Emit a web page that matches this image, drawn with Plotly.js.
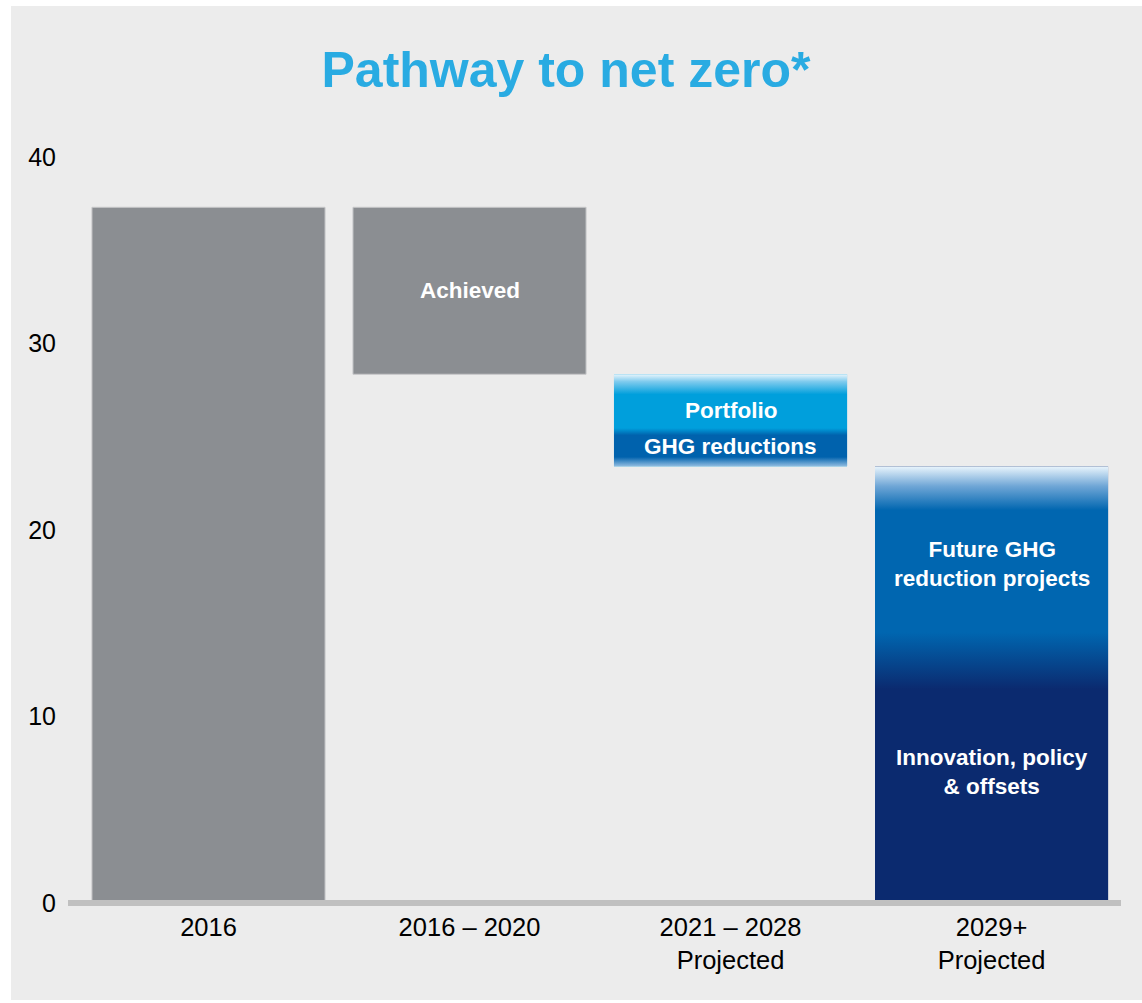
<!DOCTYPE html>
<html>
<head>
<meta charset="utf-8">
<script src="https://cdn.plot.ly/plotly-3.0.1.min.js"></script>
<style>
  html, body { margin: 0; padding: 0; background: #ffffff; }
  #chart { position: absolute; left: 11px; top: 6px; width: 1131px; height: 994px; }
</style>
</head>
<body>
<div id="chart"></div>
<script>
// ---- data ----
const categories = ["2016", "2016 – 2020", "2021 – 2028<br>Projected", "2029+<br>Projected"];
const barBases   = [0, 28.35, 23.42, 0];
const barTops    = [37.3, 37.3, 28.35, 23.4];
const yTickVals  = [0, 10, 20, 30, 40];
const yTickText  = ["0", "10", "20", "30", "40"];
const labelTexts = ["Achieved", "Portfolio", "GHG reductions", "Future GHG<br>reduction projects", "Innovation, policy<br>& offsets"];
const labelBar   = [1, 2, 2, 3, 3];
const labelY     = [32.82, 26.43, 24.5, 18.15, 7.0];
const titleText  = "Pathway to net zero*";

// ---- styles ----
const FONT = "Liberation Sans, Arial, Helvetica, sans-serif";
const barW = 0.893;
const barColors = ["#8b8e92", "#8b8e92", "#009fdc", "#0b2a6f"];
const gradients = {
  2: [[0, "#8fbbe0"], [0.1, "#0062ad"], [0.337, "#0062ad"], [0.414, "#009fdc"], [0.78, "#009fdc"], [0.92, "#7fcbee"], [1, "#e8f5fc"]],
  3: [[0, "#0b2a6f"], [0.49, "#0b2a6f"], [0.62, "#0066b0"], [0.9, "#0066b0"], [0.955, "#6fa6d6"], [1, "#e8f4fc"]]
};

const xs = categories.map((c, i) => i);
const traces = [{
  type: "bar",
  x: xs,
  y: barTops.map((t, i) => t - barBases[i]),
  base: barBases,
  width: barW,
  marker: { color: barColors, line: { color: ["#c6c7c9", "#c6c7c9", "rgba(0,0,0,0)", "rgba(0,0,0,0)"], width: 1 } },
  hoverinfo: "skip",
  showlegend: false
}];

Object.keys(gradients).forEach(k => {
  const i = +k;
  const x0 = xs[i] - barW / 2, x1 = xs[i] + barW / 2;
  traces.push({
    type: "scatter",
    mode: "lines",
    x: [x0, x1, x1, x0, x0],
    y: [barBases[i], barBases[i], barTops[i], barTops[i], barBases[i]],
    line: { width: 0 },
    fill: "toself",
    fillcolor: barColors[i],
    fillgradient: { type: "vertical", start: barBases[i], stop: barTops[i], colorscale: gradients[k] },
    hoverinfo: "skip",
    showlegend: false
  });
});

const annotations = labelTexts.map((t, j) => ({
  x: xs[labelBar[j]], y: labelY[j], xref: "x", yref: "y",
  text: "<b>" + t + "</b>", showarrow: false,
  font: { family: FONT, size: 22.5, color: "#ffffff" },
  xanchor: "center", yanchor: "middle", align: "center"
}));

const xRange = [-0.5383, 3.496];
const layout = {
  width: 1131, height: 994,
  paper_bgcolor: "#ececec",
  plot_bgcolor: "rgba(0,0,0,0)",
  margin: { l: 57, r: 21, t: 142, b: 88 },
  title: {
    text: "<b>" + titleText + "</b>",
    font: { family: FONT, size: 50, color: "#29abe2" },
    x: 0.4907, xref: "container", xanchor: "center",
    y: 0.936, yref: "container", yanchor: "middle"
  },
  xaxis: {
    range: xRange, tickvals: xs, ticktext: categories,
    showgrid: false, zeroline: false, showline: false, ticks: "",
    tickfont: { family: FONT, size: 25.5, color: "#000000" },
    ticklabelstandoff: -3,
    fixedrange: true
  },
  yaxis: {
    range: [-0.483, 40.48], tickvals: yTickVals, ticktext: yTickText,
    showgrid: false, zeroline: false, showline: false, ticks: "",
    tickfont: { family: FONT, size: 25, color: "#000000" },
    ticklabelstandoff: 11,
    fixedrange: true
  },
  shapes: [{
    type: "line", xref: "x", yref: "y",
    x0: xRange[0], x1: xRange[1], y0: 0, y1: 0,
    line: { color: "#c0c0c0", width: 6 }, layer: "above"
  }],
  annotations: annotations,
  hovermode: false,
  showlegend: false
};

Plotly.newPlot("chart", traces, layout, { displayModeBar: false, staticPlot: true });
</script>
</body>
</html>
